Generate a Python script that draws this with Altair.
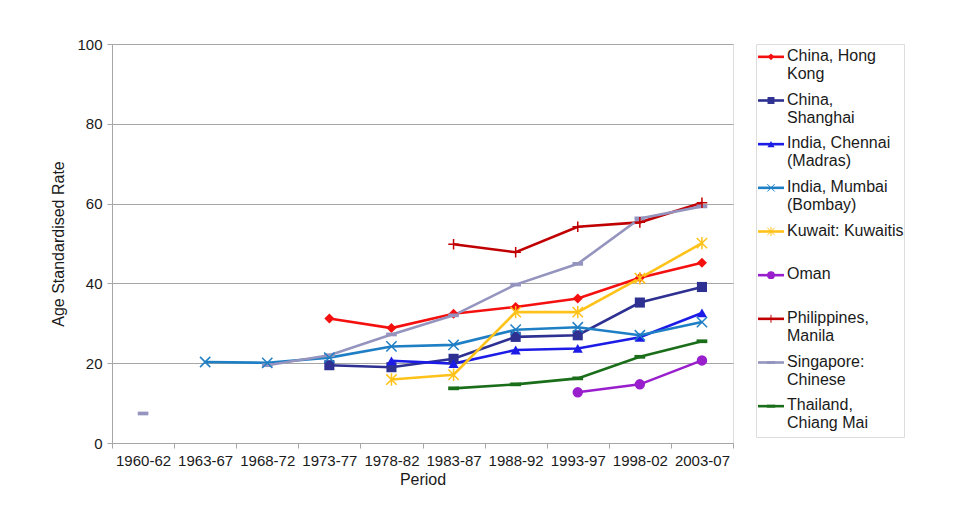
import altair as alt
import pandas as pd

periods = ["1960-62", "1963-67", "1968-72", "1973-77", "1978-82",
           "1983-87", "1988-92", "1993-97", "1998-02", "2003-07"]
series = ["China, Hong Kong", "China, Shanghai", "India, Chennai (Madras)",
          "India, Mumbai (Bombay)", "Kuwait: Kuwaitis", "Oman",
          "Philippines, Manila", "Singapore: Chinese", "Thailand, Chiang Mai"]
legend_labels = ["China, Hong\nKong", "China,\nShanghai", "India, Chennai\n(Madras)",
                 "India, Mumbai\n(Bombay)", "Kuwait: Kuwaitis", "Oman",
                 "Philippines,\nManila", "Singapore:\nChinese", "Thailand,\nChiang Mai"]
N = None
hong_kong = [N, N, N, 31.2, 28.8, 32.4, 34.1, 36.2, 41.4, 45.2]
shanghai = [N, N, N, 19.5, 19.0, 21.1, 26.6, 27.0, 35.2, 39.1]
chennai = [N, N, N, N, 20.6, 19.9, 23.3, 23.7, 26.5, 32.6]
mumbai = [N, 20.3, 20.1, 21.4, 24.2, 24.6, 28.4, 29.0, 27.0, 30.3]
kuwait = [N, N, N, N, 15.9, 17.1, 32.8, 32.8, 41.3, 50.1]
oman = [N, N, N, N, N, N, N, 12.7, 14.7, 20.7]
manila = [N, N, N, N, N, 49.8, 47.8, 54.2, 55.3, 60.2]
singapore = [7.4, N, 19.5, 22.0, 27.2, 32.0, 39.7, 44.9, 56.3, 59.3]
chiang_mai = [N, N, N, N, N, 13.7, 14.7, 16.2, 21.6, 25.5]
values = [hong_kong, shanghai, chennai, mumbai, kuwait, oman, manila, singapore, chiang_mai]

colors = ["#f51010", "#2e3192", "#1c1ce6", "#1f7fc4", "#ffc21a",
          "#9a1fcc", "#c00000", "#9494bf", "#1a6e1a"]
X_PATH = "M-1,-1L1,1M-1,1L1,-1"
ASTER_PATH = "M-1,-1L1,1M-1,1L1,-1M0,-1.2L0,1.2"
PLUS_PATH = "M-1,0L1,0M0,-1L0,1"
DASH_PATH = "M-1,-0.35L1,-0.35L1,0.35L-1,0.35Z"
shapes = ["diamond", "square", "triangle-up", X_PATH, ASTER_PATH,
          "circle", PLUS_PATH, DASH_PATH, DASH_PATH]
sizes = [100, 115, 115, 150, 150, 140, 110, 64, 64]
leg_sizes = [45, 70, 60, 110, 110, 80, 60, 1, 1]
hollow = [False, False, False, True, True, False, True, False, False]

rows = []
for s, vals, h in zip(series, values, hollow):
    seg = 0
    prev = False
    for p, v in zip(periods, vals):
        if v is None:
            if prev:
                seg += 1
            prev = False
            continue
        rows.append({"series": s, "period": p, "rate": v, "seg": f"{s}-{seg}", "hollow": h})
        prev = True
df = pd.DataFrame(rows)

FONT = "Liberation Sans"
color_scale = alt.Scale(domain=series, range=colors)
shape_scale = alt.Scale(domain=series, range=shapes)

x_enc = alt.X("period:N", sort=periods, bandPosition=0.5,
              scale=alt.Scale(type="band", domain=periods, paddingInner=0, paddingOuter=0),
              axis=alt.Axis(title="Period", labelAngle=0, tickBand="extent", grid=False,
                            domainColor="#a6a6a6", tickColor="#a6a6a6", tickSize=5,
                            labelFontSize=15, labelFont=FONT, labelColor="#1a1a1a",
                            labelPadding=5, titleFont=FONT, titleFontSize=16,
                            titleFontWeight="normal", titleColor="#1a1a1a", titlePadding=3))
y_enc = alt.Y("rate:Q", scale=alt.Scale(domain=[0, 100]),
              axis=alt.Axis(title="Age Standardised Rate", values=[0, 20, 40, 60, 80, 100],
                            gridColor="#a6a6a6", domainColor="#a6a6a6", tickColor="#a6a6a6",
                            tickSize=5, labelFontSize=15, labelFont=FONT, labelColor="#1a1a1a",
                            labelPadding=5, titleFont=FONT, titleFontSize=16,
                            titleFontWeight="normal", titleColor="#1a1a1a", titlePadding=10))

base = alt.Chart(df)
lines = base.mark_line(strokeWidth=2.6).encode(
    x=x_enc, y=y_enc,
    color=alt.Color("series:N", scale=color_scale, legend=None),
    detail="seg:N")
filled_pts = base.transform_filter("!datum.hollow").mark_point(filled=True, opacity=1).encode(
    x=x_enc, y=y_enc,
    color=alt.Color("series:N", scale=color_scale, legend=None),
    shape=alt.Shape("series:N", scale=shape_scale, legend=None),
    size=alt.Size("series:N", scale=alt.Scale(domain=series, range=sizes), legend=None))
hollow_pts = base.transform_filter("datum.hollow").mark_point(filled=False, opacity=1, strokeWidth=1.5).encode(
    x=x_enc, y=y_enc,
    color=alt.Color("series:N", scale=color_scale, legend=None),
    shape=alt.Shape("series:N", scale=shape_scale, legend=None),
    size=alt.Size("series:N", scale=alt.Scale(domain=series, range=sizes), legend=None))

main = alt.layer(lines, filled_pts, hollow_pts).properties(width=621, height=399)

leg_df = pd.DataFrame({"series": series, "label": legend_labels, "hollow": hollow})
leg_y = alt.Y("series:N", sort=series, bandPosition=0.5,
              scale=alt.Scale(type="band", domain=series, paddingInner=0, paddingOuter=0),
              axis=None)
leg_base = alt.Chart(leg_df)
leg_rule = leg_base.mark_rule(strokeWidth=2.6, yOffset=-9).encode(
    x=alt.value(2), x2=alt.value(28), y=leg_y,
    color=alt.Color("series:N", scale=color_scale, legend=None))
leg_filled = leg_base.transform_filter("!datum.hollow").mark_point(
    filled=True, opacity=1, yOffset=-9).encode(
    x=alt.value(15), y=leg_y,
    color=alt.Color("series:N", scale=color_scale, legend=None),
    shape=alt.Shape("series:N", scale=shape_scale, legend=None),
    size=alt.Size("series:N", scale=alt.Scale(domain=series, range=leg_sizes), legend=None))
leg_hollow = leg_base.transform_filter("datum.hollow").mark_point(
    filled=False, opacity=1, strokeWidth=1, yOffset=-9).encode(
    x=alt.value(15), y=leg_y,
    color=alt.Color("series:N", scale=color_scale, legend=None),
    shape=alt.Shape("series:N", scale=shape_scale, legend=None),
    size=alt.Size("series:N", scale=alt.Scale(domain=series, range=leg_sizes), legend=None))
leg_text = leg_base.mark_text(align="left", baseline="top", lineBreak="\n", font=FONT,
                              fontSize=16, lineHeight=18, color="#1a1a1a", yOffset=-18).encode(
    x=alt.value(31), y=leg_y, text="label:N")
legend = alt.layer(leg_rule, leg_filled, leg_hollow, leg_text).properties(width=148, height=393)

chart = alt.hconcat(main, legend, spacing=21).resolve_scale(
    color="shared", shape="shared", size="independent"
).properties(
    padding={"left": 42, "top": 28, "right": 5, "bottom": 5}
).configure_view(fill="#f2f2f2", stroke=None).configure(background="white")

chart.save("out.html", embed_options={"renderer": "svg", "actions": False})
